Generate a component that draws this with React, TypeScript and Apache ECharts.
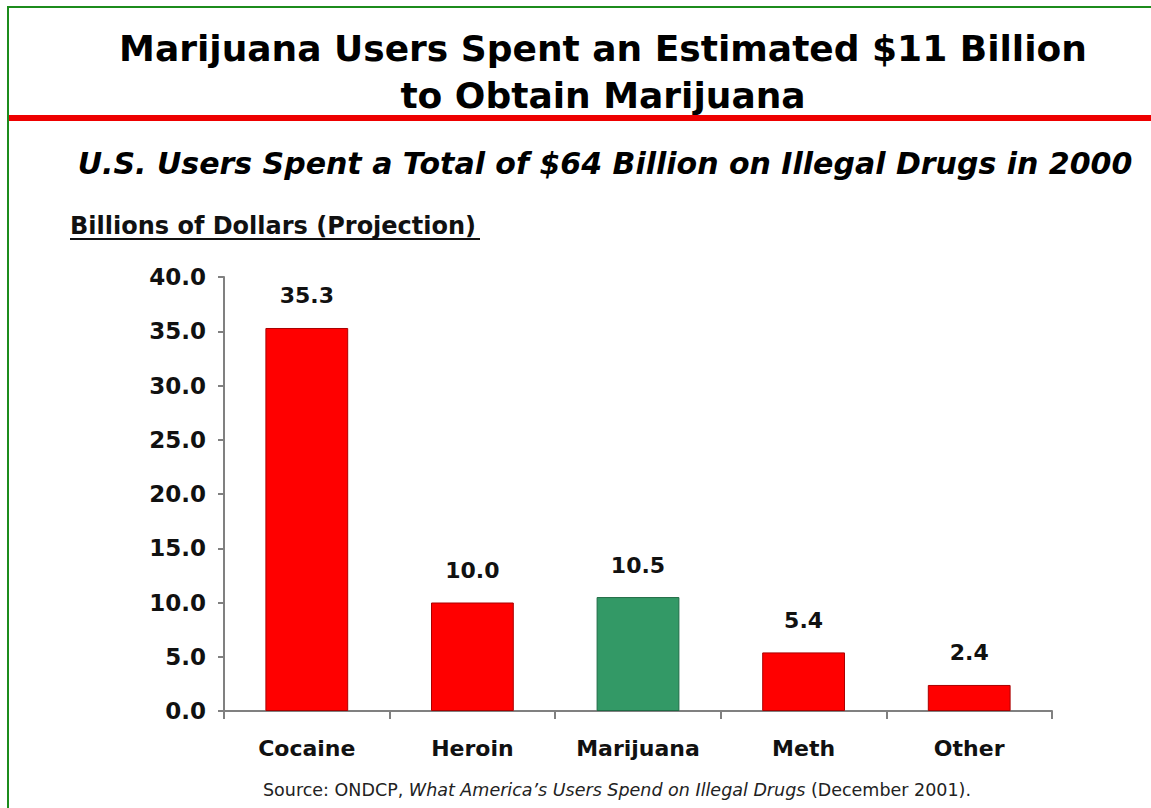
import React, { useEffect, useRef } from "react";
import * as echarts from "echarts";

const titleLines = ["Marijuana Users Spent an Estimated $11 Billion", "to Obtain Marijuana"];
const subtitle = "U.S. Users Spent a Total of $64 Billion on Illegal Drugs in 2000";
const axisTitle = "Billions of Dollars (Projection)";
const categories = ["Cocaine", "Heroin", "Marijuana", "Meth", "Other"];
const values = [35.3, 10.0, 10.5, 5.4, 2.4];
const barColors = ["#ff0000", "#ff0000", "#339966", "#ff0000", "#ff0000"];
const barBorders = ["#aa0000", "#aa0000", "#1f6b45", "#aa0000", "#aa0000"];
const sourcePlain1 = "Source: ONDCP, ";
const sourceItalic = "What America\u2019s Users Spend on Illegal Drugs";
const sourcePlain2 = " (December 2001).";

const FONT = "'DejaVu Sans', Verdana, sans-serif";

export default function App() {
  const ref = useRef<HTMLDivElement>(null);
  useEffect(() => {
    if (!ref.current) return;
    const chart = echarts.init(ref.current, undefined, { renderer: "svg" });
    chart.setOption({
      animation: false,
      backgroundColor: "#ffffff",
      grid: { left: 224, right: 99, top: 277, bottom: 97, containLabel: false },
      xAxis: {
        type: "category",
        data: categories,
        axisLine: { lineStyle: { color: "#808080", width: 2 } },
        axisTick: { show: true, length: 8, lineStyle: { color: "#808080", width: 2 } },
        axisLabel: {
          margin: 26,
          color: "#111",
          fontFamily: FONT,
          fontWeight: "bold",
          fontSize: 22,
        },
      },
      yAxis: {
        type: "value",
        min: 0,
        max: 40,
        interval: 5,
        splitLine: { show: false },
        axisLine: { show: true, lineStyle: { color: "#808080", width: 2 } },
        axisTick: { show: true, length: 6, lineStyle: { color: "#808080", width: 2 } },
        axisLabel: {
          margin: 18,
          color: "#111",
          fontFamily: FONT,
          fontWeight: "bold",
          fontSize: 23,
          formatter: (v: number) => v.toFixed(1),
        },
      },
      series: [
        {
          type: "bar",
          barWidth: "50%",
          data: values.map((v, i) => ({
            value: v,
            itemStyle: { color: barColors[i], borderColor: barBorders[i], borderWidth: 1 },
          })),
          label: {
            show: true,
            position: "top",
            distance: 21,
            color: "#111",
            fontFamily: FONT,
            fontWeight: "bold",
            fontSize: 22,
            formatter: (p: any) => Number(p.value).toFixed(1),
          },
        },
      ],
      graphic: [
        { type: "rect", shape: { x: 7, y: 6, width: 1144, height: 2 }, style: { fill: "#1c8c1c" } },
        { type: "rect", shape: { x: 7, y: 6, width: 2, height: 802 }, style: { fill: "#1c8c1c" } },
        { type: "rect", shape: { x: 9, y: 115, width: 1142, height: 6 }, style: { fill: "#ee0000" } },
        {
          type: "text",
          x: 603,
          y: 48,
          style: {
            text: titleLines[0],
            font: `bold 36px ${FONT}`,
            fill: "#000",
            textAlign: "center",
            textVerticalAlign: "middle",
          },
        },
        {
          type: "text",
          x: 603,
          y: 95,
          style: {
            text: titleLines[1],
            font: `bold 36px ${FONT}`,
            fill: "#000",
            textAlign: "center",
            textVerticalAlign: "middle",
          },
        },
        {
          type: "text",
          x: 605,
          y: 163,
          style: {
            text: subtitle,
            font: `italic bold 30px ${FONT}`,
            fill: "#000",
            textAlign: "center",
            textVerticalAlign: "middle",
          },
        },
        {
          type: "text",
          x: 70,
          y: 226,
          style: {
            text: axisTitle,
            font: `bold 24px ${FONT}`,
            fill: "#111",
            textAlign: "left",
            textVerticalAlign: "middle",
          },
        },
        { type: "rect", shape: { x: 70, y: 238, width: 410, height: 2 }, style: { fill: "#111" } },
        {
          type: "text",
          x: 617,
          y: 790,
          style: {
            text: `{a|${sourcePlain1}}{i|${sourceItalic}}{a|${sourcePlain2}}`,
            textAlign: "center",
            textVerticalAlign: "middle",
            rich: {
              a: { fontFamily: FONT, fontSize: 17.5, fill: "#222" },
              i: { fontFamily: FONT, fontSize: 17.5, fontStyle: "italic", fill: "#222" },
            },
          },
        },
      ],
    });
    return () => chart.dispose();
  }, []);
  return (
    <div
      ref={ref}
      style={{ position: "fixed", left: 0, top: 0, width: 1151, height: 808 }}
    />
  );
}
